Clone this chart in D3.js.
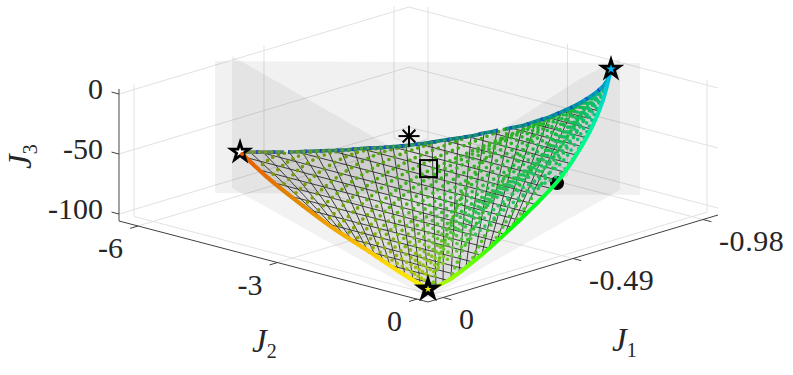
<!DOCTYPE html>
<html><head><meta charset="utf-8">
<script src="https://cdn.jsdelivr.net/npm/d3@7"></script>
<style>html,body{margin:0;background:#fff}svg{display:block}text{font-family:"Liberation Serif",serif;fill:#262626}</style>
</head><body><svg id="c" width="793" height="375"></svg>
<script>
// ---------- values ----------
const J1Ticks=[0,-0.49,-0.98], J1Labels=["0","-0.49","-0.98"];
const J2Ticks=[0,-3,-6], J2Labels=["0","-3","-6"];
const J3Ticks=[0,-50,-100], J3Labels=["0","-50","-100"];
const J1Lim=[0.0565,-1.0366], J2Lim=[0.237,-6.41], J3Lim=[-105.8,4.2];

// upper edge of the front (A -> B)
const topJ1=[-.3117,-.3210,-.3331,-.3451,-.3572,-.3710,-.3849,-.3988,-.4126,-.4282,-.4438,-.4577,-.4733,-.4889,-.5064,-.5255,-.5447,-.5639,-.5830,-.6058,-.6267,-.6476,-.6686,-.6966,-.7229,-.7544,-.7878,-.8265,-.8695,-.9044,-.9507];
const topJ2=[-5.907,-5.745,-5.534,-5.323,-5.112,-4.912,-4.711,-4.511,-4.310,-4.120,-3.930,-3.729,-3.539,-3.348,-3.168,-2.998,-2.828,-2.657,-2.487,-2.337,-2.177,-2.017,-1.857,-1.737,-1.608,-1.508,-1.419,-1.360,-1.348,-1.396,-1.574];
const topJ3=[-67.68,-66.65,-65.31,-63.97,-62.63,-61.10,-59.57,-58.03,-56.50,-54.77,-53.04,-51.50,-49.77,-48.04,-46.11,-43.99,-41.87,-39.74,-37.62,-35.10,-32.78,-30.46,-28.14,-25.04,-22.13,-18.63,-14.94,-10.65,-5.88,-2.07,3.11];
// edge A -> C
const acJ1=[-.3117,-.2481,-.1978,-.1286,-.0821,-.0348,-.0006];
const acJ2=[-5.907,-4.963,-4.117,-2.862,-1.866,-.886,-.088];
const acJ3=[-67.68,-74.72,-80.29,-87.96,-93.1,-98.35,-102.14];
const acColors=["#e65a00","#e66c00","#e08400","#f0a000","#fcc400","#ffe000","#f0f000"];
// edge C -> B
const cbJ1=[-.0006,-.0466,-.1659,-.276,-.3889,-.5,-.5927,-.7273,-.8333,-.9507];
const cbJ2=[-.088,.058,.087,.039,-.046,-.163,-.349,-.708,-1.077,-1.574];
const cbJ3=[-102.14,-97.05,-83.83,-71.62,-59.12,-46.84,-36.55,-21.63,-9.89,3.11];
const cbColors=["#e0f000","#b0f800","#70ff00","#30ff00","#00ff00","#00ff20","#00ff60","#00f890","#00e8b0","#00b0f0"];

// black wires running down from the upper edge to the lower edges
const downJ1=[-.1329,-.1221,-.1114,-.1007,-.0916,-.0810,-.0708,-.0591,-.0486,-.0376,-.0288,-.0186,-.0109,-.0006,-.0200,-.0358,-.0609,-.0896,-.1139,-.1426,-.1748,-.2026,-.2348,-.2671,-.2984,-.3307];
const downJ2=[-2.951,-2.728,-2.506,-2.281,-2.070,-1.845,-1.629,-1.390,-1.180,-.945,-.744,-.514,-.319,-.088,-.028,.033,.062,.070,.082,.091,.079,.071,.059,.047,.018,.006];
const downJ3=[-87.48,-88.67,-89.87,-91.05,-92.05,-93.22,-94.36,-95.66,-96.82,-98.04,-99.01,-100.15,-101,-102.14,-99.98,-98.24,-95.45,-92.27,-89.59,-86.41,-82.84,-79.76,-76.19,-72.61,-69.15,-65.57];
// black wires running across (constant J1)
const wireJ1=[-.025,-.050,-.078,-.106,-.1384,-.1703,-.2022,-.2341,-.2660,-.2979,-.3298,-.3653,-.4008,-.4362,-.4717,-.5071,-.5426,-.5781,-.6135,-.649,-.6844,-.7199,-.7554,-.7908,-.8263];
const wireJ3=[-99.45,-96.7,-93.55,-90.41,-86.88,-83.34,-79.81,-76.27,-72.74,-69.2,-65.67,-61.74,-57.81,-53.88,-49.95,-46.03,-42.1,-38.17,-34.24,-30.31,-26.39,-22.46,-18.53,-14.6,-10.67];
const wireJ2Start=[-.658,-1.186,-1.800,-2.391,-3.047,-3.615,-4.185,-4.733,-5.226,-5.71,-5.602,-5.030,-4.523,-4.036,-3.572,-3.194,-2.923,-2.544,-2.273,-2.002,-1.818,-1.633,-1.514,-1.393,-1.359];
const wireJ2End=[-.013,.061,.071,.071,.071,.084,.073,.062,.032,.022,-.011,-.041,-.071,-.101,-.131,-.183,-.256,-.318,-.402,-.497,-.592,-.687,-.804,-.920,-1.058];

// dotted curves leaving edge A-C
const dotJ1=[[-.2699,-.3192,-.3499,-.3692],[-.2456,-.3199,-.3708,-.4006],[-.2212,-.3206,-.3917,-.4320],[-.2000,-.3218,-.4150,-.4624],[-.1787,-.3230,-.4382,-.4927],[-.1606,-.3134,-.4398,-.5374],[-.1424,-.3037,-.4413,-.5821],[-.1269,-.3200,-.4522,-.6395],[-.1114,-.3362,-.4631,-.6968],[-.0998,-.3255,-.4801,-.7221],[-.0881,-.3147,-.4970,-.7473],[-.0778,-.3065,-.4974,-.7743],[-.0675,-.2983,-.4978,-.8013],[-.0598,-.3019,-.5018,-.8211],[-.0520,-.3054,-.5058,-.8408],[-.0452,-.3093,-.5187,-.8552],[-.0383,-.3132,-.5315,-.8695],[-.0327,-.3300,-.5527,-.8807],[-.0271,-.3467,-.5738,-.8919],[-.0224,-.3688,-.5811,-.9040],[-.0177,-.3909,-.5884,-.9160],[-.0143,-.4016,-.5754,-.9276],[-.0109,-.4122,-.5623,-.9391]];
const dotJ2=[[-5.281,-5.283,-5.157,-4.945],[-4.906,-4.943,-4.793,-4.479],[-4.530,-4.603,-4.428,-4.013],[-4.162,-4.212,-4.023,-3.648],[-3.793,-3.821,-3.618,-3.283],[-3.453,-3.497,-3.304,-2.893],[-3.113,-3.173,-2.990,-2.503],[-2.810,-2.890,-2.676,-2.078],[-2.506,-2.606,-2.362,-1.652],[-2.257,-2.383,-2.190,-1.581],[-2.008,-2.160,-2.018,-1.510],[-1.798,-1.958,-1.805,-1.449],[-1.588,-1.755,-1.592,-1.388],[-1.415,-1.587,-1.400,-1.372],[-1.242,-1.419,-1.208,-1.356],[-1.096,-1.270,-1.066,-1.352],[-.949,-1.120,-.924,-1.348],[-.821,-1.033,-.884,-1.358],[-.692,-.945,-.843,-1.368],[-.590,-.888,-.756,-1.405],[-.487,-.831,-.669,-1.441],[-.403,-.645,-.487,-1.485],[-.319,-.459,-.304,-1.529]];
const dotJ3=[[-72.30,-66.84,-63.44,-61.31],[-75.0,-66.77,-61.13,-57.83],[-77.70,-66.69,-58.81,-54.35],[-80.05,-66.56,-56.24,-50.99],[-82.4,-66.42,-53.66,-47.63],[-84.41,-67.49,-53.49,-42.68],[-86.42,-68.56,-53.32,-37.72],[-88.15,-66.76,-52.11,-31.37],[-89.87,-64.96,-50.9,-25.02],[-91.16,-66.15,-49.03,-22.22],[-92.44,-67.34,-47.15,-19.42],[-93.59,-68.14,-47.1,-16.43],[-94.73,-68.94,-47.05,-13.44],[-95.59,-68.66,-46.61,-11.25],[-96.44,-68.37,-46.17,-9.06],[-97.2,-67.94,-44.75,-7.47],[-97.96,-67.51,-43.33,-5.88],[-98.58,-65.66,-40.99,-4.64],[-99.2,-63.8,-38.64,-3.4],[-99.72,-61.35,-37.83,-2.07],[-100.24,-58.9,-37.02,-.74],[-100.62,-57.72,-38.47,.55],[-101,-56.54,-39.92,1.83]];
// dotted curves leaving edge C-B
const dot2J1=[[-.0078,-.1901,-.4261,-.6405],[-.0564,-.2310,-.4362,-.7085],[-.1318,-.3270,-.5397,-.7825],[-.2035,-.4016,-.5937,-.8212],[-.2895,-.4528,-.6502,-.8589]];
const dot2J2=[[-.044,-.804,-1.613,-1.977],[.066,-.5,-1.026,-1.612],[.066,-.467,-.863,-1.389],[.087,-.398,-.742,-1.287],[.026,-.325,-.741,-1.287]];
const dot2J3=[[-101.34,-81.15,-55,-31.25],[-95.95,-76.61,-53.88,-23.72],[-87.61,-65.98,-42.42,-15.52],[-79.66,-57.71,-36.44,-11.23],[-70.13,-52.04,-30.18,-7.06]];

// colour of a dot along the front, keyed on J2 at its start and J1 at its end
const startKeys=[-5.3,-3,-1,-.3,.1], startColors=["#8a9408","#8e9e00","#a8b800","#b8cc00","#60c820"];
const endKeys=[-.37,-.6,-.8,-.94], endColors=["#76980c","#3cac14","#14b838","#00c080"];

// markers
const asteriskPoint=[-.5254,-3.492,-44], squarePoint=[-.4283,-2.518,-54.76], circlePoint=[-.4962,-.142,-47.23];

// grey reference planes
const planeJ1=[-.2995,-1.033,-1.033,-.2995], planeJ2=[-6.376,-1.421,-1.421,-6.376], planeJ3=[4.2,4.2,-105.8,-105.8];
const shadeJ1=[-.363,-.4219,-.8810,-1.0316,-1.0316,.03,-.363];
const shadeJ2=[-6.372,-2.342,-1.886,-1.842,-1.842,.1,-6.372];
const shadeJ3=[4.2,-55.46,-4.61,4.2,-105.8,-105.8,-105.8];

// ---------- 3-D projection through scales ----------
const u=d3.scaleLinear().domain(J1Lim).range([0,1]);
const v=d3.scaleLinear().domain(J2Lim).range([0,1]);
const w=d3.scaleLinear().domain(J3Lim).range([0,1]);
const sx=d3.scaleLinear().domain([0,1]).range([0,290]), sxv=d3.scaleLinear().domain([0,1]).range([0,-309]);
const sy=d3.scaleLinear().domain([0,1]).range([0,-87]), syv=d3.scaleLinear().domain([0,1]).range([0,-81]), syw=d3.scaleLinear().domain([0,1]).range([0,-132]);
const ox=428, oy=302;
const PX=p=>ox+sx(u(p[0]))+sxv(v(p[1]));
const PY=p=>oy+sy(u(p[0]))+syv(v(p[1]))+syw(w(p[2]));
const zip=(a,b,c)=>a.map((d,i)=>[d,b[i],c[i]]);
const lineS=d3.line().x(PX).y(PY);
const lineC=d3.line().x(PX).y(PY).curve(d3.curveCatmullRom.alpha(0.5));
const startColor=d3.scaleLinear().domain(startKeys).range(startColors).clamp(true);
const endColor=d3.scaleLinear().domain(endKeys).range(endColors).clamp(true);

const svg=d3.select("#c"), defs=svg.append("defs");
let gid=0;
function grad(p0,p1,colors,offsets){
  const id="g"+(gid++);
  const g=defs.append("linearGradient").attr("id",id).attr("gradientUnits","userSpaceOnUse")
    .attr("x1",PX(p0)).attr("y1",PY(p0)).attr("x2",PX(p1)).attr("y2",PY(p1));
  colors.forEach((c,i)=>g.append("stop").attr("offset",offsets?offsets[i]:i/(colors.length-1)).attr("stop-color",c));
  return `url(#${id})`;
}
const seg=(a,b,col,wd)=>svg.append("path").attr("d",lineS([a,b])).attr("stroke",col).attr("stroke-width",wd).attr("fill","none");

// ---------- grid ----------
const [a0,a1]=J1Lim,[b0,b1]=J2Lim,[c0,c1]=J3Lim, gc="#e2e2e2";
J1Ticks.forEach(t=>{seg([t,b0,c0],[t,b1,c0],gc,1);seg([t,b1,c0],[t,b1,c1],gc,1);});
J2Ticks.forEach(t=>{seg([a0,t,c0],[a1,t,c0],gc,1);seg([a1,t,c0],[a1,t,c1],gc,1);});
J3Ticks.forEach(t=>{seg([a0,b1,t],[a1,b1,t],gc,1);seg([a1,b1,t],[a1,b0,t],gc,1);});

// ---------- grey planes ----------
svg.append("path").attr("d",lineS(zip(planeJ1,planeJ2,planeJ3))+"Z").attr("fill","#000").attr("fill-opacity",.055);
svg.append("path").attr("d",lineS(zip(shadeJ1,shadeJ2,shadeJ3))+"Z").attr("fill","#000").attr("fill-opacity",.05);

// ---------- axes ----------
const ax="#404040";
seg([a0,b1,c0],[a0,b0,c0],ax,1);
seg([a0,b0,c0],[a1,b0,c0],ax,1);
seg([a0,b1,c0],[a0,b1,c1],"#666",1.2);
J1Ticks.forEach((t,i)=>{
  seg([t,b0,c0],[t,b0+.18,c0],ax,1);
  const p=[t,b0,c0];
  svg.append("text").attr("x",PX(p)+16).attr("y",PY(p)+31).attr("font-size",30).attr("letter-spacing",.6).text(J1Labels[i]);
});
J2Ticks.forEach((t,i)=>{
  seg([a0,t,c0],[a0+.03,t,c0],ax,1);
  const p=[a0,t,c0];
  svg.append("text").attr("x",PX(p)-15).attr("y",PY(p)+32).attr("text-anchor","end").attr("font-size",30).text(J2Labels[i]);
});
J3Ticks.forEach((t,i)=>{
  seg([a0,b1,t],[a0,b1-.16,t],ax,1);
  const p=[a0,b1,t];
  svg.append("text").attr("x",PX(p)-16).attr("y",PY(p)+5).attr("text-anchor","end").attr("font-size",30).text(J3Labels[i]);
});
function title(x,y,sub,rot){
  const t=svg.append("text").attr("transform",`translate(${x},${y})`+(rot?` rotate(${rot})`:"")).attr("font-size",33);
  t.append("tspan").attr("font-style","italic").text("J");
  t.append("tspan").attr("font-size",20).attr("dy",6).attr("dx",0).text(sub);
}
title(252,352,"2");title(612,351,"1");title(31,169,"3",-90);

// ---------- surface ----------
const topPts=zip(topJ1,topJ2,topJ3), acPts=zip(acJ1,acJ2,acJ3), cbPts=zip(cbJ1,cbJ2,cbJ3);
const C=acPts[acPts.length-1], A=topPts[0], B=topPts[topPts.length-1];
const outline=lineC(topPts)+"L"+lineC(cbPts.slice().reverse()).slice(1)+"L"+lineC(acPts.slice().reverse()).slice(1)+"Z";
svg.append("path").attr("d",outline).attr("fill","#000").attr("fill-opacity",.09);

// filled circle lies behind the front
svg.append("circle").attr("cx",PX(circlePoint)).attr("cy",PY(circlePoint)).attr("r",7).attr("fill","#000");

// wires
const wires=svg.append("g").attr("fill","none").attr("stroke","#2b2b2b").attr("stroke-width",1).attr("stroke-opacity",.9);
downJ1.forEach((j,i)=>wires.append("path").attr("d",lineS([topPts[i+1],[j,downJ2[i],downJ3[i]]])));
wireJ1.forEach((j,i)=>wires.append("path").attr("d",lineS([[j,wireJ2Start[i],wireJ3[i]],[j,wireJ2End[i],wireJ3[i]]])));

// dotted curves
function dotted(J1,J2,J3){
  J1.forEach((row,i)=>{
    const pts=zip(row,J2[i],J3[i]), s=pts[0], e=pts[pts.length-1];
    const c0=startColor(s[1]), c1=endColor(e[0]);
    svg.append("path").attr("d",lineC(pts)).attr("fill","none")
      .attr("stroke",grad(s,e,[c0,d3.interpolateRgb(c0,c1)(.75),c1],[0,.3,1]))
      .attr("stroke-width",3.7).attr("stroke-linecap","round").attr("stroke-dasharray","0 6.2");
  });
}
dotted(dot2J1,dot2J2,dot2J3);
dotted(dotJ1,dotJ2,dotJ3);

// upper edge, with its two gaps
const clip=defs.append("clipPath").attr("id","gaps");
[[0,284],[288,210],[505,288]].forEach(r=>clip.append("rect").attr("x",r[0]).attr("y",0).attr("width",r[1]).attr("height",375));
const topG=svg.append("g").attr("clip-path","url(#gaps)").attr("fill","none").attr("stroke-linecap","butt");
const d_top=lineC(topPts);
topG.append("path").attr("d",d_top).attr("stroke-width",3.6).attr("stroke",grad(A,B,["#7c8a58","#3c7f68","#127a80","#0c7a88","#0088b0","#0098e0"],[0,.12,.4,.7,.9,1]));
topG.append("path").attr("d",d_top).attr("stroke-width",3.6).attr("stroke","#1440d0").attr("stroke-dasharray","3 13").attr("stroke-opacity",.85);
topG.append("path").attr("d",d_top).attr("stroke-width",3.4).attr("stroke-linecap","round").attr("stroke-dasharray","0 6.4")
  .attr("stroke",grad(A,B,["#8a9a14","#60a02c","#2a9a5c","#0c9a8a","#00a8c8"],[0,.2,.5,.8,1]));

// coloured edges
svg.append("path").attr("d",lineC(acPts)).attr("fill","none").attr("stroke-width",4.2)
  .attr("stroke",grad(A,C,acColors,acPts.map(p=>(PX(p)-PX(A))/(PX(C)-PX(A)))));
svg.append("path").attr("d",lineC(cbPts)).attr("fill","none").attr("stroke-width",4)
  .attr("stroke",grad(C,B,cbColors,cbPts.map(p=>(PY(C)-PY(p))/(PY(C)-PY(B)))));

// markers
const star=d3.symbol(d3.symbolStar,100)();
[[A,"#e65a00"],[B,"#00b0f0"],[C,"#f4f000"]].forEach((s,i)=>{
  const g=svg.append("g").attr("transform",`translate(${PX(s[0])},${PY(s[0])})`);
  g.append("path").attr("d",star).attr("fill",i==0?"#fff":s[1]).attr("stroke","#000").attr("stroke-width",i==2?3.4:2.8).attr("stroke-miterlimit",10);
  if(i==0) g.append("circle").attr("cx",2).attr("cy",2).attr("r",2).attr("fill",s[1]);
});
const ag=svg.append("g").attr("transform",`translate(${PX(asteriskPoint)},${PY(asteriskPoint)})`).attr("stroke","#000").attr("stroke-width",2);
d3.range(4).forEach(i=>{const t=i*Math.PI/4, r=i%2?9:10.5;
  ag.append("line").attr("x1",-r*Math.cos(t)).attr("y1",-r*Math.sin(t)).attr("x2",r*Math.cos(t)).attr("y2",r*Math.sin(t));});
svg.append("rect").attr("x",PX(squarePoint)-8.5).attr("y",PY(squarePoint)-8.5).attr("width",17).attr("height",17).attr("fill","none").attr("stroke","#000").attr("stroke-width",2);
</script></body></html>
